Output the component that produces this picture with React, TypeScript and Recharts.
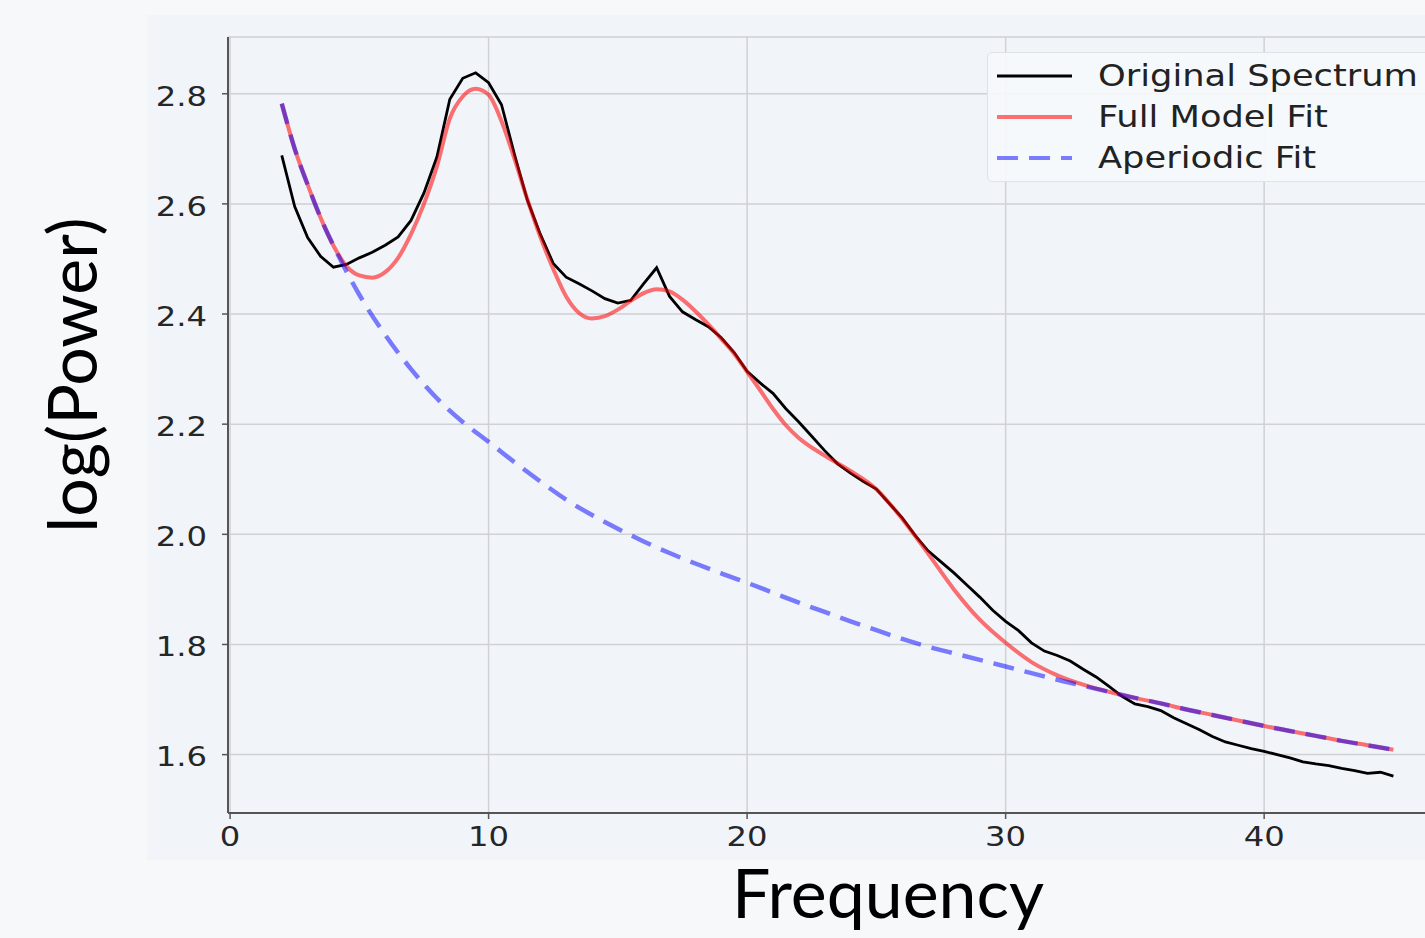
import React from "react";
import { LineChart, Line, XAxis, YAxis, CartesianGrid, Legend } from "recharts";

// power spectrum, 0.5 Hz resolution
const originalFreqs = [
  2, 2.5, 3, 3.5, 4, 4.5, 5, 5.5, 6, 6.5, 7, 7.5, 8, 8.5, 9, 9.5, 10, 10.5,
  11, 11.5, 12, 12.5, 13, 13.5, 14, 14.5, 15, 15.5, 16, 16.5, 17, 17.5, 18,
  18.5, 19, 19.5, 20, 20.5, 21, 21.5, 22, 22.5, 23, 23.5, 24, 24.5, 25, 25.5,
  26, 26.5, 27, 27.5, 28, 28.5, 29, 29.5, 30, 30.5, 31, 31.5, 32, 32.5, 33,
  33.5, 34, 34.5, 35, 35.5, 36, 36.5, 37, 37.5, 38, 38.5, 39, 39.5, 40, 40.5,
  41, 41.5, 42, 42.5, 43, 43.5, 44, 44.5, 45,
];
const originalPower = [
  2.688, 2.595, 2.539, 2.505, 2.485, 2.49, 2.502, 2.512, 2.525, 2.54, 2.57,
  2.62, 2.685, 2.79, 2.828, 2.838, 2.82, 2.78, 2.69, 2.607, 2.545, 2.492,
  2.467, 2.455, 2.442, 2.428, 2.42, 2.425, 2.455, 2.484, 2.432, 2.404, 2.39,
  2.377, 2.357, 2.33, 2.296, 2.275, 2.256, 2.228, 2.204, 2.178, 2.152, 2.128,
  2.111, 2.096, 2.082, 2.056, 2.03, 1.998, 1.97, 1.95, 1.93, 1.908, 1.886,
  1.862, 1.842, 1.825, 1.803, 1.788, 1.78, 1.77, 1.755, 1.741, 1.724, 1.706,
  1.692, 1.687, 1.68, 1.667, 1.656, 1.645, 1.633, 1.623, 1.617, 1.611, 1.606,
  1.6, 1.594, 1.587, 1.583, 1.58, 1.575, 1.571, 1.566, 1.568, 1.561,
];

const modelFreqs = [
  2, 2.5, 3, 3.5, 4, 4.5, 5, 5.5, 6, 6.5, 7, 7.5, 8, 8.5, 9, 9.5, 10, 10.5,
  11, 11.5, 12, 12.5, 13, 13.5, 14, 14.5, 15, 15.5, 16, 16.5, 17, 17.5, 18,
  18.5, 19, 19.5, 20, 20.5, 21, 21.5, 22, 23, 24, 25, 26, 27, 28, 29, 30, 31,
  32, 33, 34, 35, 36, 37, 38, 39, 40, 41, 42, 43, 44, 45,
];
const modelPower = [
  2.782, 2.7, 2.635, 2.575, 2.524, 2.487, 2.47, 2.466, 2.476, 2.502, 2.545,
  2.6, 2.668, 2.755, 2.795, 2.809, 2.798, 2.75, 2.682, 2.608, 2.54, 2.482,
  2.432, 2.402, 2.392, 2.396, 2.408, 2.424, 2.438, 2.445, 2.441, 2.426, 2.405,
  2.381, 2.355, 2.328, 2.295, 2.262, 2.228, 2.198, 2.175, 2.143, 2.115, 2.082,
  2.028, 1.965, 1.9, 1.845, 1.803, 1.768, 1.744, 1.727, 1.714, 1.703, 1.693,
  1.682, 1.672, 1.662, 1.652, 1.643, 1.634, 1.625, 1.617, 1.609,
];

const aperiodicFreqs = [
  2, 2.5, 3, 3.5, 4, 5, 6, 7, 8, 9, 10, 11, 12, 13, 14, 15, 16, 17, 18, 19,
  20, 21, 22, 23, 24, 25, 26, 27, 28, 29, 30, 31, 32, 33, 34, 35, 36, 37, 38,
  39, 40, 41, 42, 43, 44, 45,
];
const aperiodicPower = [
  2.782, 2.7, 2.635, 2.575, 2.524, 2.435, 2.362, 2.3, 2.247, 2.204, 2.168,
  2.131, 2.096, 2.063, 2.035, 2.01, 1.987, 1.966, 1.947, 1.929, 1.912, 1.894,
  1.876, 1.859, 1.842, 1.826, 1.81, 1.796, 1.784, 1.772, 1.76, 1.748, 1.736,
  1.725, 1.714, 1.703, 1.693, 1.682, 1.672, 1.662, 1.652, 1.643, 1.634, 1.625,
  1.617, 1.609,
];

const xTicks = [0, 10, 20, 30, 40];
const yTicks = [1.6, 1.8, 2.0, 2.2, 2.4, 2.6, 2.8];
const seriesNames = ["Original Spectrum", "Full Model Fit", "Aperiodic Fit"];

const toPoints = (freqs: number[], power: number[]) =>
  freqs.map((f, i) => ({ freq: f, power: power[i] }));

const originalData = toPoints(originalFreqs, originalPower);
const modelData = toPoints(modelFreqs, modelPower);
const aperiodicData = toPoints(aperiodicFreqs, aperiodicPower);

const tickFont = "'DejaVu Sans', sans-serif";
const DASH = "21 11";

const YTick = (props: any) => {
  const { x, y, payload } = props;
  return (
    <text
      x={x}
      y={y + 3}
      textAnchor="end"
      dominantBaseline="central"
      fontFamily={tickFont}
      fontSize={26}
      fill="#262626"
      transform={`translate(${x} ${y}) scale(1.24 1) translate(${-x} ${-y})`}
    >
      {Number(payload.value).toFixed(1)}
    </text>
  );
};

const XTick = (props: any) => {
  const { x, y, payload } = props;
  return (
    <text
      x={x}
      y={y + 19}
      textAnchor="middle"
      fontFamily={tickFont}
      fontSize={26}
      fill="#262626"
      transform={`translate(${x} ${y}) scale(1.24 1) translate(${-x} ${-y})`}
    >
      {payload.value}
    </text>
  );
};

const legendStyles = [
  { color: "#000000", opacity: 1, width: 2.8, dash: undefined },
  { color: "#ff0000", opacity: 0.55, width: 4, dash: undefined },
  { color: "#0000ff", opacity: 0.5, width: 4, dash: DASH },
];

const renderLegend = () => (
  <div
    style={{
      width: 460,
      height: 130,
      boxSizing: "border-box",
      background: "rgba(246,248,251,0.92)",
      border: "1px solid #dfe2e6",
      borderRadius: 5,
      paddingTop: 2,
    }}
  >
    {seriesNames.map((name, i) => (
      <div
        key={name}
        style={{ height: 41, display: "flex", alignItems: "center", paddingLeft: 9 }}
      >
        <svg width={75} height={10} style={{ marginRight: 26 }}>
          <line
            x1={0}
            y1={5}
            x2={75}
            y2={5}
            stroke={legendStyles[i].color}
            strokeOpacity={legendStyles[i].opacity}
            strokeWidth={legendStyles[i].width}
            strokeDasharray={legendStyles[i].dash}
          />
        </svg>
        <span
          style={{
            display: "inline-block",
            fontFamily: tickFont,
            fontSize: 30,
            color: "#222",
            transform: "scaleX(1.175)",
            transformOrigin: "left center",
            whiteSpace: "nowrap",
          }}
        >
          {name}
        </span>
      </div>
    ))}
  </div>
);

const App = () => {
  return (
    <div
      style={{
        position: "absolute",
        left: 0,
        top: 0,
        width: 1425,
        height: 938,
        overflow: "hidden",
        background: "#f7f8fa",
      }}
    >
      <div
        style={{
          position: "absolute",
          left: 147,
          top: 15,
          width: 1278,
          height: 845,
          background: "#f1f4f9",
        }}
      />
      <div style={{ position: "absolute", left: 0, top: 0 }}>
        <LineChart
          width={1480}
          height={938}
          margin={{ top: 37, right: 31, bottom: 65, left: 0 }}
        >
          <CartesianGrid stroke="#cfd1d5" strokeWidth={1.5} />
          <XAxis
            dataKey="freq"
            type="number"
            domain={[-0.08, 47.15]}
            ticks={xTicks}
            height={60}
            tickSize={6}
            tickMargin={8}
            tick={<XTick />}
            axisLine={{ stroke: "#555", strokeWidth: 2 }}
            tickLine={{ stroke: "#555", strokeWidth: 1.5 }}
            allowDataOverflow
          />
          <XAxis
            xAxisId="top"
            orientation="top"
            type="number"
            domain={[-0.08, 47.15]}
            height={0}
            tick={false}
            tickLine={false}
            axisLine={{ stroke: "#555", strokeWidth: 2 }}
          />
          <YAxis
            type="number"
            domain={[1.494, 2.903]}
            ticks={yTicks}
            width={228}
            tickSize={6}
            tickMargin={15}
            tick={<YTick />}
            axisLine={{ stroke: "#555", strokeWidth: 2 }}
            tickLine={{ stroke: "#555", strokeWidth: 1.5 }}
            allowDataOverflow
          />
          <Legend
            layout="vertical"
            align="center"
            verticalAlign="middle"
            content={renderLegend}
            wrapperStyle={{ left: 987, top: 52, width: 460, height: 130 }}
          />
          <Line
            data={originalData}
            dataKey="power"
            name={seriesNames[0]}
            type="linear"
            stroke="#000000"
            strokeWidth={2.8}
            dot={false}
            isAnimationActive={false}
          />
          <Line
            data={modelData}
            dataKey="power"
            name={seriesNames[1]}
            type="monotone"
            stroke="#ff0000"
            strokeOpacity={0.55}
            strokeWidth={4}
            dot={false}
            isAnimationActive={false}
          />
          <Line
            data={aperiodicData}
            dataKey="power"
            name={seriesNames[2]}
            type="monotone"
            stroke="#0000ff"
            strokeOpacity={0.5}
            strokeWidth={4.5}
            strokeDasharray={DASH}
            dot={false}
            isAnimationActive={false}
          />
        </LineChart>
      </div>
      <svg
        width={1425}
        height={938}
        style={{ position: "absolute", left: 0, top: 0, pointerEvents: "none" }}
      >
        <text
          x={97}
          y={375}
          textAnchor="middle"
          fontFamily="Lato, sans-serif"
          fontSize={68}
          fill="#000"
          transform="rotate(-90 97 375)"
        >
          log(Power)
        </text>
        <text
          x={888}
          y={918}
          textAnchor="middle"
          fontFamily="Lato, sans-serif"
          fontSize={68}
          fill="#000"
        >
          Frequency
        </text>
      </svg>
    </div>
  );
};

export default App;
